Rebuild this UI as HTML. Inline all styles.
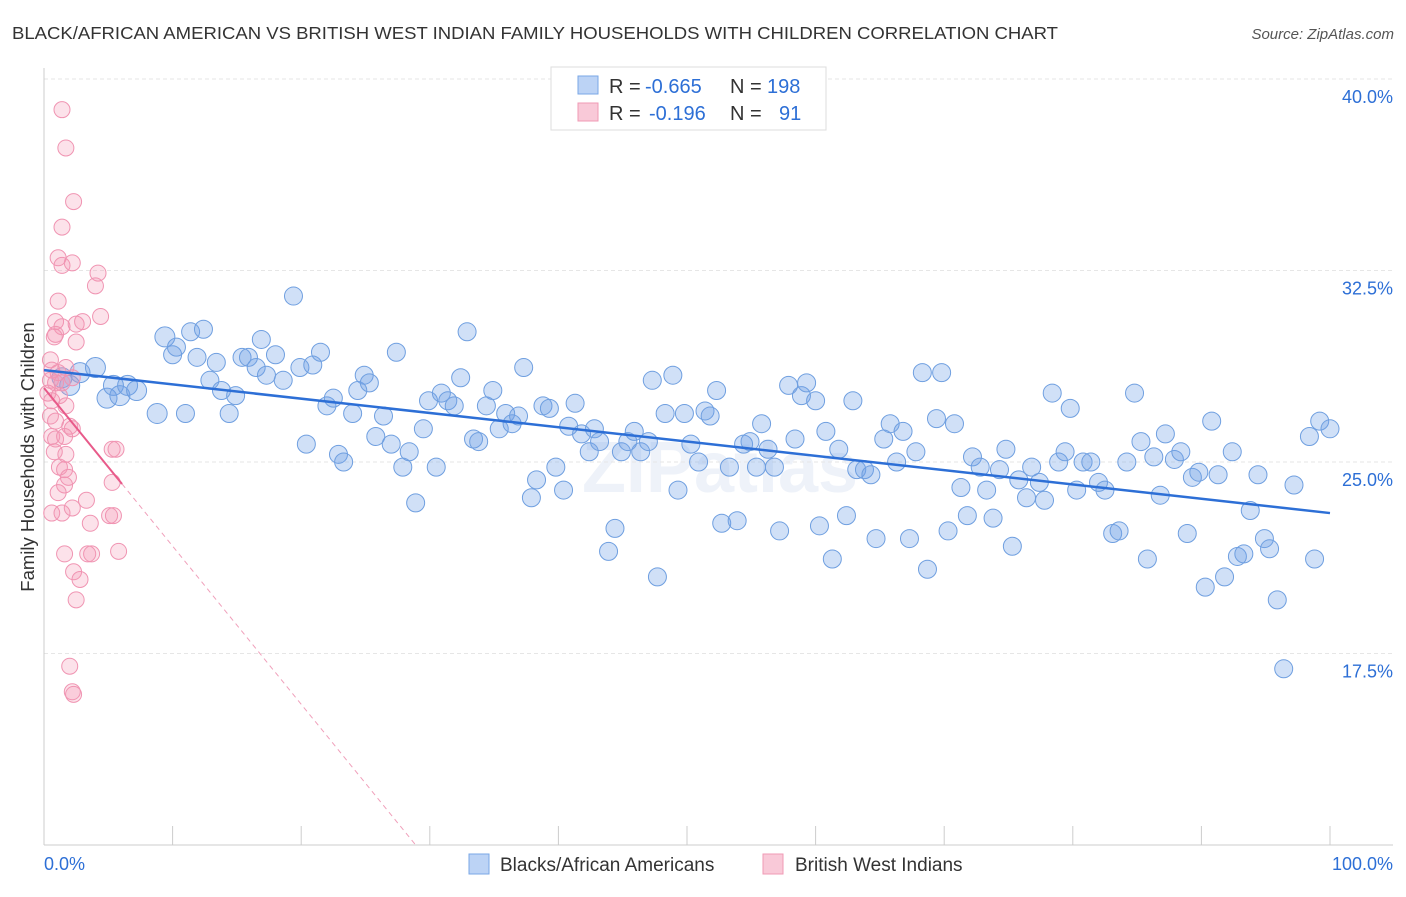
<!DOCTYPE html>
<html><head><meta charset="utf-8"><style>
body{margin:0;background:#fff;font-family:"Liberation Sans",sans-serif;}
svg text{font-family:"Liberation Sans",sans-serif;}
</style></head><body>
<svg id="chart" width="1406" height="892" xmlns="http://www.w3.org/2000/svg">
<text x="12" y="39" font-size="17.5" fill="#333" textLength="1046" lengthAdjust="spacingAndGlyphs">BLACK/AFRICAN AMERICAN VS BRITISH WEST INDIAN FAMILY HOUSEHOLDS WITH CHILDREN CORRELATION CHART</text>
<text x="1394" y="39" font-size="15" fill="#555" text-anchor="end" font-style="italic">Source: ZipAtlas.com</text>
<text transform="translate(34,457) rotate(-90)" font-size="18.5" fill="#333" text-anchor="middle">Family Households with Children</text>
<text x="720" y="492" font-size="72" fill="#eef2f9" text-anchor="middle" font-weight="bold">ZIPatlas</text>
<g id="grid"></g><g id="pts"></g><g id="trends"></g>
<g>
<rect x="551" y="67" width="275" height="63" fill="#fff" stroke="#ddd"/>
<rect x="578" y="76" width="20" height="18" fill="#bcd3f5" stroke="#7aa7e6"/>
<rect x="578" y="103" width="20" height="18" fill="#f9c9d8" stroke="#f09ab5"/>
<text x="609" y="93" font-size="20" fill="#333">R =</text>
<text x="645" y="93" font-size="20" fill="#2d6fd6">-0.665</text>
<text x="730" y="93" font-size="20" fill="#333">N =</text>
<text x="767" y="93" font-size="20" fill="#2d6fd6">198</text>
<text x="609" y="120" font-size="20" fill="#333">R =</text>
<text x="649" y="120" font-size="20" fill="#2d6fd6">-0.196</text>
<text x="730" y="120" font-size="20" fill="#333">N =</text>
<text x="779" y="120" font-size="20" fill="#2d6fd6">91</text>
</g>
<g>
<rect x="469" y="854" width="20" height="20" fill="#bcd3f5" stroke="#7aa7e6"/>
<text x="500" y="871" font-size="19" fill="#333">Blacks/African Americans</text>
<rect x="763" y="854" width="20" height="20" fill="#f9c9d8" stroke="#f09ab5"/>
<text x="795" y="871" font-size="19" fill="#333">British West Indians</text>
</g>
</svg>
<script>
const yTicks=[40,32.5,25,17.5];
const yTickLabels=["40.0%","32.5%","25.0%","17.5%"];
const blueX=[1.4,2.0,2.8,4.0,4.9,5.4,5.9,6.5,7.2,8.8,9.4,10.0,10.3,11.0,11.4,11.9,12.4,12.9,13.4,13.8,14.4,14.9,15.4,15.9,16.5,16.9,17.3,18.0,18.6,19.4,19.9,20.4,20.9,21.5,22.0,22.5,22.9,23.3,24.0,24.4,24.9,25.3,25.8,26.4,27.0,27.4,27.9,28.4,28.9,29.5,29.9,30.5,30.9,31.4,31.9,32.4,32.9,33.4,33.8,34.4,34.9,35.4,35.9,36.4,36.9,37.3,37.9,38.3,38.8,39.3,39.8,40.4,40.8,41.3,41.8,42.4,42.8,43.2,43.9,44.4,44.9,45.4,45.9,46.4,47.0,47.3,47.7,48.3,48.9,49.3,49.8,50.3,50.9,51.4,51.8,52.3,52.7,53.3,53.9,54.4,54.9,55.4,55.8,56.3,56.8,57.2,57.9,58.4,58.9,59.3,60.0,60.3,60.8,61.3,61.8,62.4,62.9,63.2,63.8,64.3,64.7,65.3,65.8,66.3,66.8,67.3,67.8,68.3,68.7,69.4,69.8,70.3,70.8,71.3,71.8,72.2,72.8,73.3,73.8,74.3,74.8,75.3,75.8,76.4,76.8,77.4,77.8,78.4,78.9,79.4,79.8,80.3,80.8,81.4,82.0,82.5,83.1,83.6,84.2,84.8,85.3,85.8,86.3,86.8,87.2,87.9,88.4,88.9,89.3,89.8,90.3,90.8,91.3,91.8,92.4,92.8,93.3,93.8,94.4,94.9,95.3,95.9,96.4,97.2,98.4,98.8,99.2,100.0];
const blueY=[28.3,28.0,28.5,28.7,27.5,28.0,27.6,28.0,27.8,26.9,29.9,29.2,29.5,26.9,30.1,29.1,30.2,28.2,28.9,27.8,26.9,27.6,29.1,29.1,28.7,29.8,28.4,29.2,28.2,31.5,28.7,25.7,28.8,29.3,27.2,27.5,25.3,25.0,26.9,27.8,28.4,28.1,26.0,26.8,25.7,29.3,24.8,25.4,23.4,26.3,27.4,24.8,27.7,27.4,27.2,28.3,30.1,25.9,25.8,27.2,27.8,26.3,26.9,26.5,26.8,28.7,23.6,24.3,27.2,27.1,24.8,23.9,26.4,27.3,26.1,25.4,26.3,25.8,21.5,22.4,25.4,25.8,26.2,25.4,25.8,28.2,20.5,26.9,28.4,23.9,26.9,25.7,25.0,27.0,26.8,27.8,22.6,24.8,22.7,25.7,25.8,24.8,26.5,25.5,24.8,22.3,28.0,25.9,27.6,28.1,27.4,22.5,26.2,21.2,25.5,22.9,27.4,24.7,24.7,24.5,22.0,25.9,26.5,25.0,26.2,22.0,25.4,28.5,20.8,26.7,28.5,22.3,26.5,24.0,22.9,25.2,24.8,23.9,22.8,24.7,25.5,21.7,24.3,23.6,24.8,24.2,23.5,27.7,25.0,25.4,27.1,23.9,25.0,25.0,24.2,23.9,22.2,22.3,25.0,27.7,25.8,21.2,25.2,23.7,26.1,25.1,25.4,22.2,24.4,24.6,20.1,26.6,24.5,20.5,25.4,21.3,21.4,23.1,24.5,22.0,21.6,19.6,16.9,24.1,26.0,21.2,26.6,26.3];
const pinkX=[1.4,1.7,2.3,1.4,1.1,1.4,2.2,4.2,4.0,1.1,0.9,1.4,2.5,3.0,4.4,0.9,0.8,2.5,0.5,0.6,1.1,1.7,0.5,0.9,1.4,2.2,0.3,0.6,1.2,1.7,0.5,0.9,2.0,0.6,0.9,1.6,2.2,5.3,5.6,0.8,1.7,1.2,1.6,1.9,1.6,5.3,1.1,3.3,0.6,1.4,2.2,5.1,5.4,3.6,1.6,3.4,3.7,5.8,2.3,2.8,2.5,2.0,2.2,2.3];
const pinkY=[38.8,37.3,35.2,34.2,33.0,32.7,32.8,32.4,31.9,31.3,30.5,30.3,30.4,30.5,30.7,30.0,29.9,29.7,29.0,28.6,28.5,28.7,28.2,28.1,28.1,28.3,27.7,27.4,27.6,27.2,26.8,26.6,26.4,26.0,25.9,26.0,26.3,25.5,25.5,25.4,25.3,24.8,24.7,24.4,24.1,24.2,23.8,23.5,23.0,23.0,23.2,22.9,22.9,22.6,21.4,21.4,21.4,21.5,20.7,20.4,19.6,17.0,16.0,15.9];
const blueTrend=[28.6,23.0];
const pinkTrend=[27.9,24.14,6.07];
const NS="http://www.w3.org/2000/svg";
const X=v=>44+v*12.86, Y=v=>462-(v-25)*25.53;
function mk(tag,attrs,parent){const e=document.createElementNS(NS,tag);for(const k in attrs)e.setAttribute(k,attrs[k]);parent.appendChild(e);return e;}
const grid=document.getElementById('grid');
yTicks.forEach((t,i)=>{
 const l=mk('line',{x1:44,x2:1393,y1:Y(t),y2:Y(t),stroke:'#e6e6e6','stroke-dasharray':'4,3'},grid);
 
 
 const tx=mk('text',{x:1393,y:Y(t)+24,'font-size':18,fill:'#2d6fd6','text-anchor':'end'},grid);
 tx.textContent=yTickLabels[i];
 
 
});
const ax=mk('line',{x1:44,x2:44,y1:68,y2:845,stroke:'#ccc'},grid);


const bx=mk('line',{x1:44,x2:1393,y1:845,y2:845,stroke:'#ccc'},grid);


for(let i=0;i<=10;i++){const t=mk('line',{x1:X(i*10),x2:X(i*10),y1:826,y2:845,stroke:'#ccc'},grid);
 
 }
[["0.0%",44,'start'],["100.0%",1393,'end']].forEach(a=>{const t=mk('text',{x:a[1],y:870,'font-size':18,fill:'#2d6fd6','text-anchor':a[2]},grid);t.textContent=a[0];
 
 });
const pts=document.getElementById('pts');
blueX.forEach((v,i)=>{const c=mk('circle',{cx:X(v),cy:Y(blueY[i]),r:v<10?10:9,fill:'rgba(110,160,230,0.32)',stroke:'#6f9fe0','stroke-width':1},pts);
 
 });
pinkX.forEach((v,i)=>{const c=mk('circle',{cx:X(v),cy:Y(pinkY[i]),r:8,fill:'rgba(245,150,180,0.28)',stroke:'#f094b2','stroke-width':1},pts);
 
 });
const tr=document.getElementById('trends');
const b=mk('line',{x1:X(0),y1:Y(blueTrend[0]),x2:X(100),y2:Y(blueTrend[1]),stroke:'#2d6fd6','stroke-width':2.5},tr);


const slope=(pinkTrend[1]-pinkTrend[0])/pinkTrend[2];
const p=mk('line',{x1:X(0),y1:Y(pinkTrend[0]),x2:X(pinkTrend[2]),y2:Y(pinkTrend[1]),stroke:'#e85a8a','stroke-width':2},tr);


const xEnd=(10-pinkTrend[0])/slope;
const pd=mk('line',{x1:X(pinkTrend[2]),y1:Y(pinkTrend[1]),x2:X(xEnd),y2:Y(10),stroke:'#f0a0bb','stroke-width':1,'stroke-dasharray':'5,4'},tr);


</script>
</body></html>
